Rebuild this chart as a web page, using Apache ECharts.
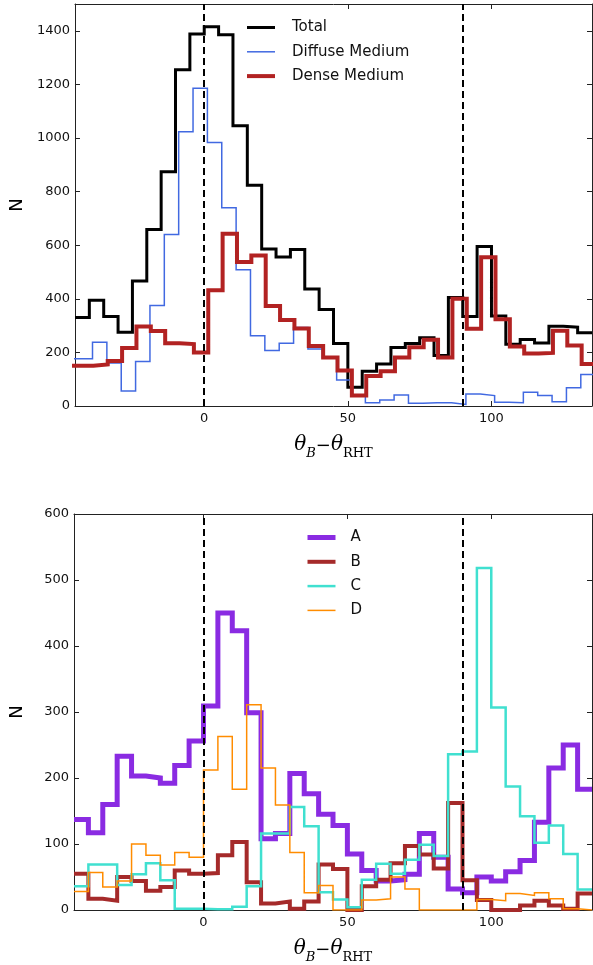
<!DOCTYPE html>
<html>
<head>
<meta charset="utf-8">
<script src="https://cdn.jsdelivr.net/npm/echarts@6/dist/echarts.min.js"></script>
<style>
html, body { margin: 0; padding: 0; background: #fff; }
#chart { width: 593px; height: 965px; }
</style>
</head>
<body>
<div id="chart"></div>
<script>
// histogram bins, width 5 deg
const binWidth = 5

// top panel
const totalStart = -45
const totalCounts = [330, 395, 334, 275, 466, 659, 874, 1255, 1388, 1415, 1385, 1046, 824, 586, 556, 584, 437, 360,
  233, 70, 130, 157, 218, 233, 255, 188, 405, 334, 595, 336, 230, 248, 235, 298, 294, 273]
const diffuseStart = -48.9
const diffuseCounts = [176, 176, 238, 160, 56, 166, 375, 640, 1023, 1186, 983, 740, 508, 262, 207, 234, 293, 213, 181,
  97, 42, 12, 22, 41, 10, 12, 12, 6, 45, 39, 14, 12, 51, 39, 16, 68, 118]
const denseStart = -48.6
const denseCounts = [150, 150, 155, 168, 216, 297, 280, 234, 231, 200, 432, 643, 537, 562, 373, 321, 289, 224, 181,
  132, 39, 112, 130, 181, 219, 247, 181, 400, 288, 555, 324, 222, 196, 198, 281, 226, 157]

// bottom panel
const groupStart = -45
const countsA = [137, 117, 160, 233, 203, 200, 192, 219, 256, 309, 450, 423, 299, 108, 116, 207, 176, 145,
  128, 85, 60, 44, 46, 54, 116, 80, 32, 26, 50, 44, 58, 75, 133, 215, 250, 183]
const countsB = [55, 17, 14, 50, 44, 29, 35, 60, 55, 56, 83, 103, 42, 10, 13, 2, 13, 69,
  62, 0, 36, 46, 71, 97, 84, 63, 162, 45, 15, 0, 0, 7, 14, 7, 2, 25]
const countsC = [36, 69, 69, 38, 54, 71, 45, 2, 2, 1, 1, 5, 36, 116, 116, 156, 127, 27,
  16, 4, 46, 70, 55, 76, 99, 82, 236, 240, 518, 307, 187, 142, 102, 128, 85, 31]
const countsD = [28, 57, 35, 44, 100, 83, 68, 87, 80, 212, 263, 183, 311, 215, 159, 87, 26, 37,
  0, 0, 15, 17, 50, 32, 0, 0, 0, 0, 16, 14, 25, 22, 26, 17, 2, 0]

const xTicks = [0, 50, 100]
const topYTicks = [0, 200, 400, 600, 800, 1000, 1200, 1400]
const bottomYTicks = [0, 100, 200, 300, 400, 500, 600]
const refLines = [0, 90]

function stepPoints(start, counts) {
  const pts = []
  counts.forEach((c, i) => {
    const lo = start + i * binWidth
    pts.push([lo, c], [lo + binWidth, c])
  })
  return pts
}

const axisColor = '#222'
const labelStyle = { fontFamily: 'DejaVu Sans', fontSize: 13, color: '#111', formatter: v => String(v) }
const thetaName = '{i|θ}{si|B}{r|−}{i|θ}{sr|RHT}'
const thetaRich = {
  i: { fontFamily: 'DejaVu Serif', fontStyle: 'italic', fontSize: 20, color: '#000', verticalAlign: 'bottom', padding: [0, 0, 5, 0] },
  si: { fontFamily: 'DejaVu Serif', fontStyle: 'italic', fontSize: 13, color: '#000', verticalAlign: 'bottom' },
  r: { fontFamily: 'DejaVu Serif', fontSize: 18, color: '#000', verticalAlign: 'bottom', padding: [0, 0, 5, 0] },
  sr: { fontFamily: 'DejaVu Serif', fontSize: 13, color: '#000', verticalAlign: 'bottom' }
}

function xAxes(grid) {
  return [
    {
      gridIndex: grid, type: 'value', min: -45, max: 135, position: 'bottom',
      axisLine: { show: true, onZero: false, lineStyle: { color: axisColor, width: 1 } },
      axisTick: { inside: true, length: 5, customValues: xTicks, lineStyle: { color: axisColor } },
      axisLabel: Object.assign({ customValues: xTicks, margin: 6 }, labelStyle),
      splitLine: { show: false },
      name: thetaName, nameLocation: 'middle', nameGap: 29,
      nameTextStyle: { rich: thetaRich }
    },
    {
      gridIndex: grid, type: 'value', min: -45, max: 135, position: 'top',
      axisLine: { show: true, onZero: false, lineStyle: { color: axisColor, width: 1 } },
      axisTick: { inside: true, length: 5, customValues: xTicks, lineStyle: { color: axisColor } },
      axisLabel: { show: false },
      splitLine: { show: false }
    }
  ]
}

function yAxes(grid, max, ticks) {
  return [
    {
      gridIndex: grid, type: 'value', min: 0, max: max, position: 'left',
      axisLine: { show: true, onZero: false, lineStyle: { color: axisColor, width: 1 } },
      axisTick: { inside: true, length: 5, customValues: ticks, lineStyle: { color: axisColor } },
      axisLabel: Object.assign({ customValues: ticks, margin: 5 }, labelStyle),
      splitLine: { show: false },
      name: 'N', nameLocation: 'middle', nameGap: 48,
      nameTextStyle: { fontFamily: 'DejaVu Sans', fontSize: 18, color: '#000' }
    },
    {
      gridIndex: grid, type: 'value', min: 0, max: max, position: 'right',
      axisLine: { show: true, onZero: false, lineStyle: { color: axisColor, width: 1 } },
      axisTick: { inside: true, length: 5, customValues: ticks, lineStyle: { color: axisColor } },
      axisLabel: { show: false },
      splitLine: { show: false }
    }
  ]
}

const lineWidths = { 'Total': 3, 'Diffuse Medium': 1.5, 'Dense Medium': 4, A: 5, B: 4, C: 2.5, D: 1.5 }

function histSeries(name, color, start, counts, xIdx, yIdx) {
  return {
    name: name, type: 'line', xAxisIndex: xIdx, yAxisIndex: yIdx,
    data: stepPoints(start, counts),
    color: color, symbol: 'none', silent: true,
    lineStyle: { color: color, width: lineWidths[name], join: 'miter' }
  }
}

function dashedRefs() {
  return {
    silent: true, symbol: ['none', 'none'], label: { show: false },
    lineStyle: { color: '#000', width: 2, type: [7, 4] },
    data: refLines.map(v => ({ xAxis: v }))
  }
}

// legend shows only the line, not the symbol
const legendBase = {
  orient: 'vertical', itemWidth: 28, itemHeight: 14, itemGap: 9.3,
  selectedMode: false,
  itemStyle: { color: 'rgba(0,0,0,0)', borderWidth: 0 }
}
const legendItems = names => names.map(n => ({ name: n, lineStyle: { width: lineWidths[n] } }))

const chart = echarts.init(document.getElementById('chart'))
const dense = histSeries('Dense Medium', '#b22222', denseStart, denseCounts, 0, 0)
dense.markLine = dashedRefs()
const seriesD = histSeries('D', '#ff8c00', groupStart, countsD, 2, 2)
seriesD.markLine = dashedRefs()

chart.setOption({
  animation: false,
  backgroundColor: '#fff',
  grid: [
    { left: 73, top: 4, width: 519, height: 402 },
    { left: 73, top: 514, width: 519, height: 402 }
  ],
  xAxis: xAxes(0).concat(xAxes(1)),
  yAxis: yAxes(0, 1500, topYTicks).concat(yAxes(1, 600, bottomYTicks)),
  legend: [
    Object.assign({
      data: legendItems(['Total', 'Diffuse Medium', 'Dense Medium']),
      left: 240, top: 15,
      textStyle: { fontFamily: 'DejaVu Sans', fontSize: 15, color: '#111', padding: [0, 0, 0, 12] }
    }, legendBase),
    Object.assign({
      data: legendItems(['A', 'B', 'C', 'D']),
      left: 300, top: 525,
      textStyle: { fontFamily: 'DejaVu Sans', fontSize: 15, color: '#111', padding: [0, 0, 0, 10] }
    }, legendBase)
  ],
  series: [
    histSeries('Total', '#000', totalStart, totalCounts, 0, 0),
    histSeries('Diffuse Medium', '#4169e1', diffuseStart, diffuseCounts, 0, 0),
    dense,
    histSeries('A', '#8a2be2', groupStart, countsA, 2, 2),
    histSeries('B', '#a52a2a', groupStart, countsB, 2, 2),
    histSeries('C', '#40e0d0', groupStart, countsC, 2, 2),
    seriesD
  ]
})
</script>
</body>
</html>
